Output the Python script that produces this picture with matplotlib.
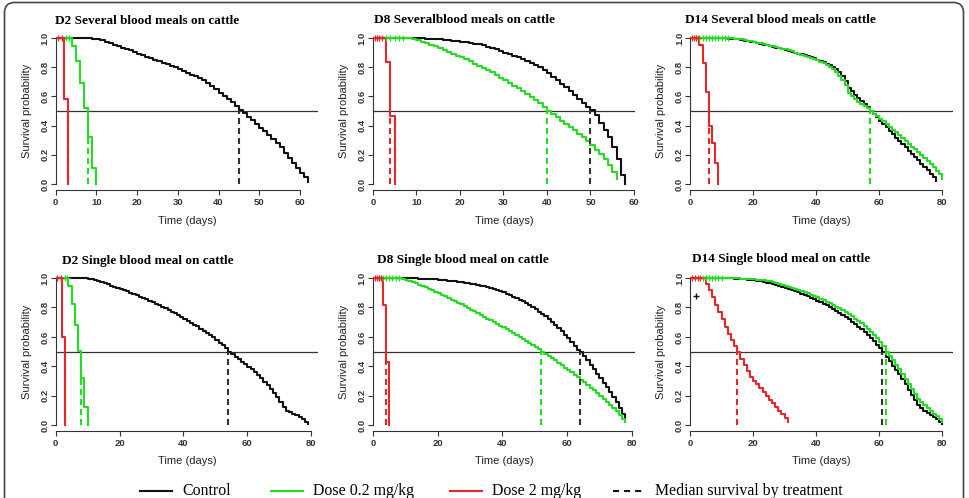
import numpy as np
import matplotlib
matplotlib.use("Agg")
import matplotlib.pyplot as plt
from matplotlib.lines import Line2D
from matplotlib.patches import FancyBboxPatch

# Kaplan-Meier survival, one value per day (index = day)
# D2 several blood meals
d2_sev_ctrl = [1, 1, 1, 1, 1, 1, 1, 0.998, 0.997, 0.995,
               0.992, 0.985, 0.975, 0.965, 0.955, 0.945, 0.935, 0.925, 0.915, 0.905,
               0.893, 0.883, 0.872, 0.862, 0.852, 0.842, 0.832, 0.822, 0.811, 0.800,
               0.789, 0.776, 0.763, 0.750, 0.737, 0.724, 0.710, 0.694, 0.672, 0.648,
               0.625, 0.605, 0.585, 0.562, 0.535, 0.505, 0.485, 0.460, 0.435, 0.410,
               0.385, 0.360, 0.335, 0.310, 0.280, 0.250, 0.215, 0.180, 0.145, 0.110,
               0.075, 0.045, 0.015]
d2_sev_low = [1, 1, 1, 1, 0.943, 0.843, 0.689, 0.518, 0.320, 0.107, 0]
d2_sev_high = [1, 1, 0.580, 0]

# D8 several blood meals
d8_sev_ctrl = [1, 1, 1, 1, 1, 1, 1, 1, 1, 1,
               0.999, 0.998, 0.996, 0.994, 0.992, 0.990, 0.988, 0.986, 0.983, 0.980,
               0.976, 0.972, 0.967, 0.962, 0.956, 0.950, 0.942, 0.933, 0.923, 0.912,
               0.900, 0.890, 0.880, 0.868, 0.856, 0.843, 0.830, 0.815, 0.800, 0.780,
               0.758, 0.736, 0.713, 0.688, 0.662, 0.635, 0.610, 0.585, 0.558, 0.530,
               0.505, 0.470, 0.420, 0.370, 0.320, 0.250, 0.170, 0.060, 0.0]
d8_sev_low = [1, 1, 1, 1, 1, 1, 1, 1, 0.998, 0.993,
              0.985, 0.975, 0.965, 0.955, 0.943, 0.930, 0.918, 0.905, 0.893, 0.880,
              0.868, 0.855, 0.840, 0.825, 0.810, 0.795, 0.780, 0.765, 0.745, 0.728,
              0.710, 0.692, 0.674, 0.656, 0.637, 0.618, 0.598, 0.578, 0.557, 0.524,
              0.500, 0.478, 0.456, 0.434, 0.412, 0.390, 0.367, 0.344, 0.320, 0.295,
              0.265, 0.235, 0.205, 0.170, 0.130, 0.085, 0.035]
d8_sev_high = [1, 1, 1, 0.836, 0.468, 0]

# D14 several blood meals
d14_sev_ctrl = [1, 1, 1, 1, 1, 1, 1, 1, 1, 1,
                1, 0.998, 0.996, 0.994, 0.992, 0.990, 0.987, 0.983, 0.979, 0.975,
                0.970, 0.965, 0.960, 0.955, 0.950, 0.945, 0.940, 0.935, 0.930, 0.924,
                0.918, 0.912, 0.906, 0.900, 0.894, 0.888, 0.881, 0.874, 0.867, 0.860,
                0.852, 0.844, 0.835, 0.825, 0.813, 0.800, 0.785, 0.765, 0.740, 0.705,
                0.660, 0.635, 0.610, 0.590, 0.570, 0.550, 0.525, 0.500, 0.478, 0.456,
                0.433, 0.410, 0.387, 0.364, 0.341, 0.318, 0.295, 0.272, 0.250, 0.228,
                0.207, 0.185, 0.163, 0.140, 0.118, 0.095, 0.070, 0.045, 0.020]
d14_sev_low = [1, 1, 1, 1, 1, 1, 1, 1, 1, 1,
               1, 1, 1, 0.998, 0.996, 0.993, 0.990, 0.987, 0.983, 0.978,
               0.973, 0.968, 0.963, 0.958, 0.953, 0.948, 0.943, 0.938, 0.933, 0.928,
               0.922, 0.915, 0.908, 0.900, 0.893, 0.886, 0.878, 0.871, 0.864, 0.857,
               0.848, 0.838, 0.826, 0.813, 0.800, 0.785, 0.765, 0.740, 0.710, 0.675,
               0.625, 0.600, 0.580, 0.565, 0.550, 0.535, 0.518, 0.500, 0.482, 0.465,
               0.447, 0.430, 0.410, 0.392, 0.373, 0.354, 0.335, 0.315, 0.295, 0.275,
               0.256, 0.237, 0.218, 0.198, 0.178, 0.158, 0.138, 0.115, 0.092, 0.065,
               0.035]
d14_sev_high = [1, 1, 1, 0.955, 0.830, 0.630, 0.400, 0.280, 0.143, 0]

# D2 single blood meal
d2_sgl_ctrl = [1, 1, 1, 1, 1, 1, 1, 1, 1, 0.998,
               0.995, 0.990, 0.984, 0.977, 0.970, 0.963, 0.956, 0.949, 0.942, 0.935,
               0.927, 0.918, 0.909, 0.900, 0.891, 0.882, 0.873, 0.864, 0.855, 0.846,
               0.837, 0.826, 0.815, 0.804, 0.793, 0.782, 0.771, 0.759, 0.747, 0.735,
               0.722, 0.710, 0.697, 0.684, 0.671, 0.657, 0.643, 0.628, 0.613, 0.597,
               0.580, 0.562, 0.543, 0.523, 0.500, 0.483, 0.467, 0.450, 0.433, 0.416,
               0.399, 0.381, 0.362, 0.342, 0.320, 0.297, 0.273, 0.248, 0.222, 0.190,
               0.155, 0.125, 0.100, 0.088, 0.078, 0.068, 0.055, 0.040, 0.025, 0.010]
d2_sgl_low = [1, 1, 1, 1, 0.946, 0.826, 0.680, 0.505, 0.320, 0.124, 0]
d2_sgl_high = [1, 1, 0.600, 0]

# D8 single blood meal
d8_sgl_ctrl = [1, 1, 1, 1, 1, 1, 1, 1, 1, 1,
               1, 0.999, 0.998, 0.997, 0.996, 0.995, 0.994, 0.993, 0.992, 0.990,
               0.988, 0.986, 0.984, 0.982, 0.980, 0.977, 0.974, 0.971, 0.968, 0.965,
               0.962, 0.958, 0.954, 0.949, 0.944, 0.938, 0.932, 0.925, 0.918, 0.910,
               0.902, 0.893, 0.884, 0.874, 0.864, 0.853, 0.841, 0.829, 0.816, 0.802,
               0.787, 0.772, 0.756, 0.739, 0.721, 0.702, 0.682, 0.661, 0.639, 0.616,
               0.592, 0.567, 0.541, 0.514, 0.495, 0.470, 0.440, 0.410, 0.380, 0.350,
               0.320, 0.290, 0.260, 0.225, 0.190, 0.155, 0.115, 0.075, 0.040]
d8_sgl_low = [1, 1, 1, 1, 1, 1, 1, 1, 0.998, 0.993,
              0.987, 0.980, 0.972, 0.964, 0.955, 0.946, 0.937, 0.928, 0.918, 0.908,
              0.898, 0.887, 0.876, 0.865, 0.854, 0.843, 0.832, 0.821, 0.809, 0.797,
              0.785, 0.773, 0.761, 0.749, 0.737, 0.725, 0.713, 0.701, 0.689, 0.677,
              0.665, 0.652, 0.639, 0.626, 0.613, 0.600, 0.587, 0.573, 0.559, 0.545,
              0.530, 0.515, 0.500, 0.485, 0.470, 0.455, 0.440, 0.424, 0.408, 0.392,
              0.376, 0.360, 0.343, 0.326, 0.309, 0.292, 0.274, 0.256, 0.238, 0.219,
              0.200, 0.180, 0.160, 0.139, 0.117, 0.094, 0.070, 0.045, 0.020]
d8_sgl_high = [1, 1, 1, 0.820, 0.430, 0]

# D14 single blood meal
d14_sgl_ctrl = [1, 1, 1, 1, 1, 1, 1, 1, 1, 1,
                1, 0.999, 0.998, 0.997, 0.996, 0.995, 0.993, 0.991, 0.989, 0.987,
                0.984, 0.981, 0.977, 0.973, 0.968, 0.963, 0.958, 0.952, 0.946, 0.940,
                0.933, 0.926, 0.918, 0.910, 0.902, 0.893, 0.884, 0.875, 0.866, 0.856,
                0.846, 0.836, 0.825, 0.814, 0.802, 0.790, 0.777, 0.764, 0.750, 0.735,
                0.720, 0.704, 0.687, 0.670, 0.652, 0.633, 0.613, 0.592, 0.570, 0.547,
                0.523, 0.500, 0.465, 0.435, 0.405, 0.375, 0.345, 0.312, 0.278, 0.243,
                0.205, 0.170, 0.140, 0.120, 0.100, 0.085, 0.070, 0.055, 0.040, 0.025,
                0.010]
d14_sgl_low = [1, 1, 1, 1, 1, 1, 1, 1, 1, 1,
               1, 0.999, 0.999, 0.998, 0.998, 0.997, 0.996, 0.995, 0.994, 0.993,
               0.991, 0.989, 0.987, 0.984, 0.981, 0.977, 0.972, 0.967, 0.961, 0.955,
               0.948, 0.941, 0.934, 0.927, 0.919, 0.911, 0.903, 0.895, 0.887, 0.878,
               0.869, 0.860, 0.850, 0.840, 0.829, 0.818, 0.806, 0.794, 0.781, 0.768,
               0.754, 0.740, 0.725, 0.709, 0.692, 0.674, 0.655, 0.635, 0.613, 0.590,
               0.565, 0.535, 0.500, 0.470, 0.440, 0.410, 0.380, 0.350, 0.315, 0.280,
               0.245, 0.210, 0.180, 0.160, 0.140, 0.120, 0.100, 0.080, 0.060, 0.040,
               0.020]
d14_sgl_high = [1, 1, 1, 1, 1, 0.96, 0.92, 0.87, 0.82, 0.77,
                0.72, 0.67, 0.62, 0.58, 0.54, 0.50, 0.45, 0.41, 0.37, 0.33,
                0.30, 0.28, 0.25, 0.225, 0.20, 0.175, 0.15, 0.125, 0.10, 0.075,
                0.05, 0.02]

# censored observations (days) for dose groups
cens_low = [[2.5, 3.3], [3, 4, 5, 6, 7], [2, 3, 4, 5, 6, 7, 8, 9, 10, 11, 12],
            [3.0, 3.6], [2, 3, 4, 5, 6, 7, 8], [4, 5, 6, 7, 8, 9, 10]]
cens_high = [[0.6, 1.6], [0.5, 1.0, 1.5, 2.2], [0.5, 1.2, 2.0, 2.6],
             [0.5, 1.6], [0.6, 1.2, 2.0, 2.6], [0.5, 1.5, 2.5, 3.3]]
# stray control censor mark in D14 single panel
extra_t = [2]
extra_s = [0.88]

# median survival (days): control, 0.2 mg/kg, 2 mg/kg
medians = [[45, 8, 3], [50, 40, 4], [57, 57, 6],
           [54, 8, 3], [64, 52, 4], [61, 62, 15]]

titles = ["D2 Several blood meals on cattle", "D8 Severalblood meals on cattle",
          "D14 Several blood meals on cattle", "D2 Single blood meal on cattle",
          "D8 Single blood meal on cattle", "D14 Single blood meal on cattle"]
xticks_list = [[0, 10, 20, 30, 40, 50, 60], [0, 10, 20, 30, 40, 50, 60],
               [0, 20, 40, 60, 80], [0, 20, 40, 60, 80],
               [0, 20, 40, 60, 80], [0, 20, 40, 60, 80]]
yticks = [0.0, 0.2, 0.4, 0.6, 0.8, 1.0]

curves = [(d2_sev_ctrl, d2_sev_low, d2_sev_high),
          (d8_sev_ctrl, d8_sev_low, d8_sev_high),
          (d14_sev_ctrl, d14_sev_low, d14_sev_high),
          (d2_sgl_ctrl, d2_sgl_low, d2_sgl_high),
          (d8_sgl_ctrl, d8_sgl_low, d8_sgl_high),
          (d14_sgl_ctrl, d14_sgl_low, d14_sgl_high)]

legend_labels = ["Control", "Dose 0.2 mg/kg", "Dose 2 mg/kg", "Median survival by treatment"]

BLACK = "#111111"
GREEN = "#22dd22"
RED = "#e8262a"
colors = [BLACK, GREEN, RED]
med_colors = ["#333333", GREEN, RED]

W, H = 969, 498
fig = plt.figure(figsize=(W / 100, H / 100), dpi=100)

sans = "Liberation Sans"
serif = "Liberation Serif"

# layout in pixels: left of axes per column, (top, bottom) per row
col_left = [55.7, 372.9, 690.0]
col_w = 262.5
rows = [(32.2, 189.8), (272.1, 431.2)]
title_pos = [(55, 21), (374, 20), (685, 20), (62, 261), (377, 260), (692, 259)]

dash = (0, (2.9, 1.9))

for i in range(6):
    r, c = divmod(i, 3)
    top, bot = rows[r]
    ax = fig.add_axes([col_left[c] / W, 1 - bot / H, col_w / W, (bot - top) / H])
    ctrl, low, high = curves[i]
    xmax = max(len(ctrl), len(low), len(high)) - 1
    ax.set_xlim(0, 1.04 * xmax)
    ax.set_ylim(-0.04, 1.04)

    ax.axhline(0.5, color="#333333", lw=0.9, zorder=1)

    for s, col in zip((ctrl, low, high), colors):
        t = np.arange(len(s))
        ax.step(t, s, where="post", color=col, lw=1.5, zorder=2)

    for cens, s, col in ((cens_low[i], low, GREEN), (cens_high[i], high, RED)):
        ct = np.array(cens)
        idx = np.floor(ct).astype(int)
        ax.plot(ct, np.array(s)[idx], ls="none", marker="+", ms=4.5, mew=0.9,
                color=col, zorder=3)
    if i == 5:
        ax.plot(extra_t, extra_s, ls="none", marker="+", ms=5, mew=1.0,
                color=BLACK, zorder=3)

    for m, col in zip(medians[i], med_colors):
        ax.plot([m, m], [0, 0.5], color=col, lw=1.5, ls=dash, zorder=2.5)

    for side in ("top", "right"):
        ax.spines[side].set_visible(False)
    xt = xticks_list[i]
    ax.spines["left"].set_bounds(0, 1)
    ax.spines["bottom"].set_bounds(xt[0], xt[-1])
    for side in ("left", "bottom"):
        ax.spines[side].set_color("#333333")
        ax.spines[side].set_linewidth(0.8)

    ax.set_xticks(xt)
    ax.set_xticklabels([str(v) for v in xt], fontsize=6.8, family=sans,
                       fontweight="bold", color="#333333")
    ax.set_yticks(yticks)
    ax.set_yticklabels(["%.1f" % v for v in yticks], fontsize=6.8, family=sans,
                       fontweight="bold", rotation=90, va="center", color="#333333")
    ax.tick_params(axis="both", length=3.6, width=0.8, color="#333333")
    ax.tick_params(axis="x", pad=2.2)
    ax.tick_params(axis="y", pad=0.8)

    ax.set_xlabel("Time (days)", fontsize=8, family=sans, color="#222222")
    ax.set_ylabel("Survival probability", fontsize=8, family=sans, color="#222222")
    ax.xaxis.label.set_va("center")
    ax.yaxis.label.set_va("center")
    xl_y = (bot - (221 if r == 0 else 461.5)) / (bot - top)
    ax.xaxis.set_label_coords(0.5, xl_y)
    ax.yaxis.set_label_coords(-28.5 / col_w, 0.5)
    ax.patch.set_alpha(0)

    tx, ty = title_pos[i]
    fig.text(tx / W, 1 - ty / H, titles[i], fontsize=9.5, family=serif,
             fontweight="bold", ha="left", va="center")

# legend drawn along the bottom
leg_line_x = [140, 271, 450, 613]
leg_y = 491
leg_styles = ["-", "-", "-", (0, (2.9, 2.4))]
leg_colors = [BLACK, GREEN, RED, BLACK]
for x0, lab, ls, col in zip(leg_line_x, legend_labels, leg_styles, leg_colors):
    fig.add_artist(Line2D([x0 / W, (x0 + 32) / W], [1 - leg_y / H, 1 - leg_y / H],
                          transform=fig.transFigure, color=col, lw=1.5, ls=ls))
    fig.text((x0 + 42) / W, 1 - leg_y / H, lab, fontsize=11.4, family=serif,
             ha="left", va="center")

# rounded frame around the whole figure
frame = FancyBboxPatch((4.5, -30), 959, 496 + 30 - 0.5,
                       boxstyle="round,pad=0,rounding_size=10",
                       transform=None, fill=False, edgecolor="#444444", lw=1.2)
fig.add_artist(frame)

fig.savefig("out.png", dpi=100)
